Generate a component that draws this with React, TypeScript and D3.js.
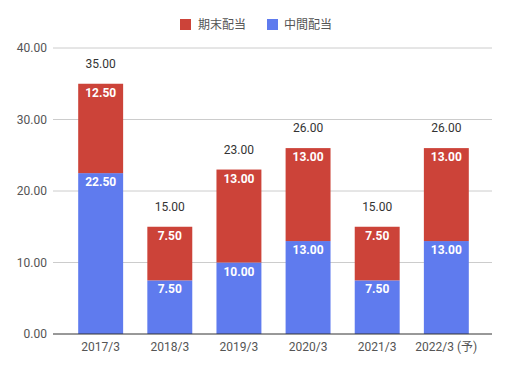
import React from "react";
import { scaleBand, scaleLinear } from "d3";

// dividend data (per fiscal year)
const categories = ["2017/3", "2018/3", "2019/3", "2020/3", "2021/3", "2022/3 (予)"];
const interim = [22.5, 7.5, 10, 13, 7.5, 13]; // 中間配当
const yearEnd = [12.5, 7.5, 13, 13, 7.5, 13]; // 期末配当
const yTicks = [0, 10, 20, 30, 40];

const RED = "#cc4339";
const BLUE = "#5f7bee";
const FONT = "Roboto, 'Noto Sans CJK JP', sans-serif";

const App = () => {
  const W = 509;
  const H = 370;
  const left = 53, right = 492, top = 48, bottom = 334;

  const x = scaleBand<string>()
    .domain(categories)
    .range([left + 1, right + 1])
    .paddingInner(0.35)
    .paddingOuter(0.35);
  const y = scaleLinear().domain([0, 40]).range([bottom, top]);

  return (
    <svg
      width={W}
      height={H}
      style={{ position: "absolute", left: 0, top: 0, background: "#fff" }}
      fontFamily={FONT}
    >
      {/* legend */}
      <g fontSize={12} fill="#555">
        <rect x={180} y={19} width={11} height={11} fill={RED} />
        <text x={198} y={29}>期末配当</text>
        <rect x={267} y={19} width={11} height={11} fill={BLUE} />
        <text x={284} y={29}>中間配当</text>
      </g>

      {/* gridlines and y ticks */}
      {yTicks.map((t) => (
        <g key={t}>
          {t !== 0 && (
            <line x1={left} x2={right} y1={y(t)} y2={y(t)} stroke="#cccccc" strokeWidth={1} />
          )}
          <text x={47} y={y(t) + 4} textAnchor="end" fontSize={12} fill="#555">
            {t.toFixed(2)}
          </text>
        </g>
      ))}

      {/* bars */}
      {categories.map((c, i) => {
        const bx = x(c)!;
        const bw = x.bandwidth();
        const total = interim[i] + yearEnd[i];
        const cx = bx + bw / 2;
        return (
          <g key={c}>
            <rect x={bx} y={y(interim[i])} width={bw} height={bottom - y(interim[i])} fill={BLUE} />
            <rect x={bx} y={y(total)} width={bw} height={y(interim[i]) - y(total)} fill={RED} />
            <text x={cx} y={y(interim[i]) + 13} textAnchor="middle" fontSize={12} fontWeight="bold" fill="#fff">
              {interim[i].toFixed(2)}
            </text>
            <text x={cx} y={y(total) + 13} textAnchor="middle" fontSize={12} fontWeight="bold" fill="#fff">
              {yearEnd[i].toFixed(2)}
            </text>
            <text x={cx} y={y(total) - 16} textAnchor="middle" fontSize={12} fill="#333">
              {total.toFixed(2)}
            </text>
            <text x={cx} y={351} textAnchor="middle" fontSize={12} fill="#555">
              {c}
            </text>
          </g>
        );
      })}

      {/* baseline */}
      <line x1={left} x2={right} y1={bottom} y2={bottom} stroke="#333" strokeWidth={1} />
    </svg>
  );
};

export default App;
